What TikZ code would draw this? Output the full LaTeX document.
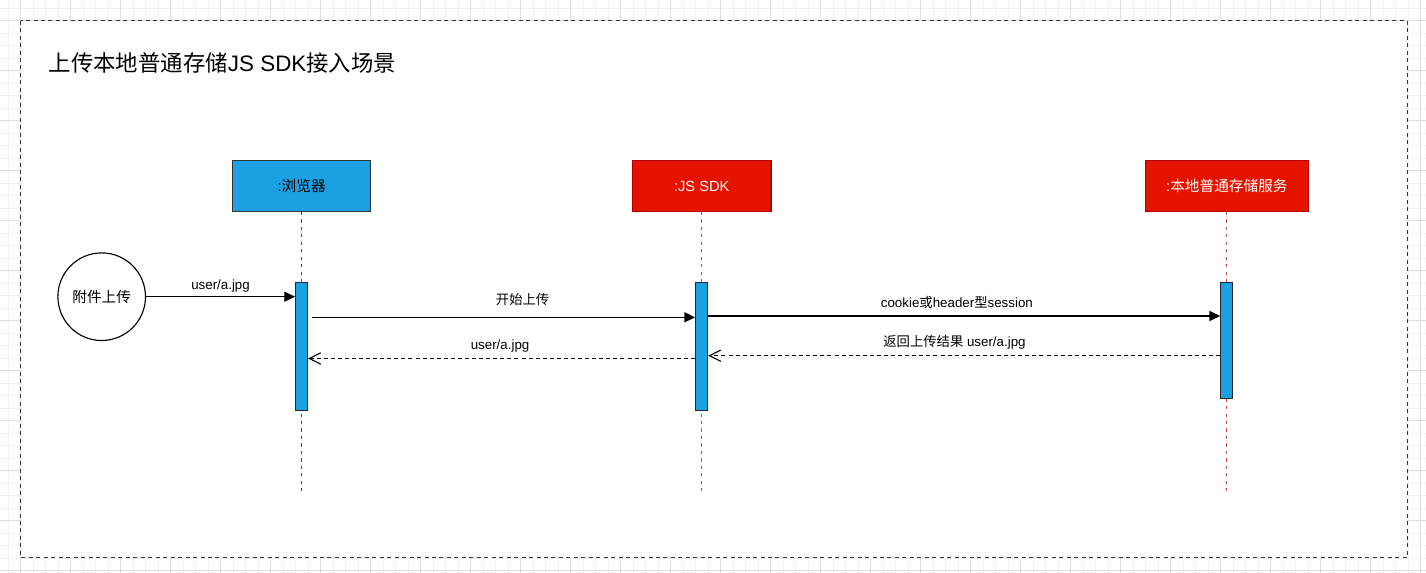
\documentclass[tikz,border=0pt]{standalone}
\usepackage{fontspec}
\setmainfont{Liberation Sans}
\newfontfamily\cjk{Noto Sans CJK SC}
\usetikzlibrary{arrows.meta}
\definecolor{gridminor}{HTML}{F0F0F0}
\definecolor{gridmajor}{HTML}{DDDDDD}
\definecolor{dblue}{HTML}{1BA1E2}
\definecolor{dred}{HTML}{E51400}
\definecolor{dredline}{HTML}{B20000}
\definecolor{lifered}{HTML}{D04848}
\definecolor{framecol}{HTML}{333333}
\tikzset{
  gminor/.style={draw=gridminor, line width=0.75pt},
  gmajor/.style={draw=gridmajor, line width=0.75pt},
  framebox/.style={draw=framecol, fill=white, line width=0.85pt, dash pattern=on 3pt off 2.6pt},
  bluehead/.style={rectangle, draw=black!80, fill=dblue, line width=0.85pt, minimum width=103.5pt, minimum height=38pt, inner sep=0pt, font=\fontsize{11pt}{13pt}\selectfont, text=black},
  redhead/.style={rectangle, draw=dredline, fill=dred, line width=0.85pt, minimum height=38pt, inner sep=0pt, font=\fontsize{11pt}{13pt}\selectfont, text=white},
  lifegray/.style={draw=black!70, line width=0.85pt, dash pattern=on 2.4pt off 3.2pt},
  lifered/.style={draw=lifered, line width=0.85pt, dash pattern=on 2.4pt off 3.2pt},
  actbar/.style={rectangle, draw=black!85, fill=dblue, line width=0.85pt, minimum width=9pt, inner sep=0pt},
  msg/.style={draw=black, line width=0.85pt, -{Triangle[length=8pt,width=7.5pt]}},
  ret/.style={draw=black, line width=0.85pt, dash pattern=on 3pt off 2.3pt, -{Straight Barb[length=8.5pt,width=8.5pt]}},
  lbl/.style={midway, inner sep=0pt, font=\fontsize{10pt}{12pt}\selectfont, text=black},
}
\begin{document}
\begin{tikzpicture}[x=0.75pt,y=-0.75pt]
\useasboundingbox (0,0) rectangle (1426,573);
\fill[white] (0,0) rectangle (1426,573);
% grid
\foreach \i in {0,...,113} { \draw[gminor] ({8.2+12.5*\i},0) -- ++(0,573); }
\foreach \i in {0,...,45} { \draw[gminor] (0,{8.2+12.5*\i}) -- ++(1426,0); }
\foreach \i in {0,...,28} { \draw[gmajor] ({20.7+50*\i},0) -- ++(0,573); }
\foreach \i in {0,...,11} { \draw[gmajor] (0,{20.7+50*\i}) -- ++(1426,0); }
% frame
\draw[framebox] (20.7,20.7) rectangle (1407.3,557.7);
% title
\node[anchor=west, inner sep=0pt, font=\fontsize{16.8pt}{19pt}\selectfont] (title) at (48.5,62.5) {{\cjk 上传本地普通存储}JS SDK{\cjk 接入场景}};
% heads
\node[bluehead] (br) at (301.7,186) {:{\cjk 浏览器}};
\node[redhead, minimum width=104pt] (sdk) at (701.7,186) {:JS SDK};
\node[redhead, minimum width=122.5pt] (svc) at (1226.9,186) {:{\cjk 本地普通存储服务}};
% lifeline ends
\coordinate (brend) at (301.7,492);
\coordinate (sdkend) at (701.7,492);
\coordinate (svcend) at (1226.9,492);
\draw[lifegray] (br.south) -- (brend);
\draw[lifered] (sdk.south) -- (sdkend);
\draw[lifered] (svc.south) -- (svcend);
% activation bars
\node[actbar, minimum height=96pt] (brbar) at (301.6,346.7) {};
\node[actbar, minimum height=96pt] (sdkbar) at (701.7,346.7) {};
\node[actbar, minimum height=87pt] (svcbar) at (1226.7,340.7) {};
% start circle
\node[circle, draw=black, fill=white, line width=0.85pt, minimum size=65.7pt, inner sep=0pt, font=\fontsize{11pt}{13pt}\selectfont] (att) at (101.7,296.7) {{\cjk 附件上传}};
% message levels
\coordinate (y2) at (0,317.3);
\coordinate (y3) at (0,316);
\coordinate (y4) at (0,355.7);
\coordinate (y5) at (0,358.5);
% messages
\draw[msg] (att.east) -- (att.east -| brbar.west) node[lbl, yshift=8pt] {user/a.jpg};
\draw[msg] ([xshift=3pt]brbar.east |- y2) -- (sdkbar.west |- y2) node[lbl, xshift=14.2pt, yshift=13.5pt] {{\cjk 开始上传}};
\draw[msg] (sdkbar.east |- y3) -- (svcbar.west |- y3) node[lbl, xshift=-5.5pt, yshift=10pt] {cookie{\cjk 或}header{\cjk 型}session};
\draw[ret] (svcbar.west |- y4) -- (sdkbar.east |- y4) node[lbl, xshift=-7.3pt, yshift=10pt] {{\cjk 返回上传结果} user/a.jpg};
\draw[ret] (sdkbar.west |- y5) -- (brbar.east |- y5) node[lbl, xshift=-1.2pt, yshift=9.4pt] {user/a.jpg};
\end{tikzpicture}
\end{document}
